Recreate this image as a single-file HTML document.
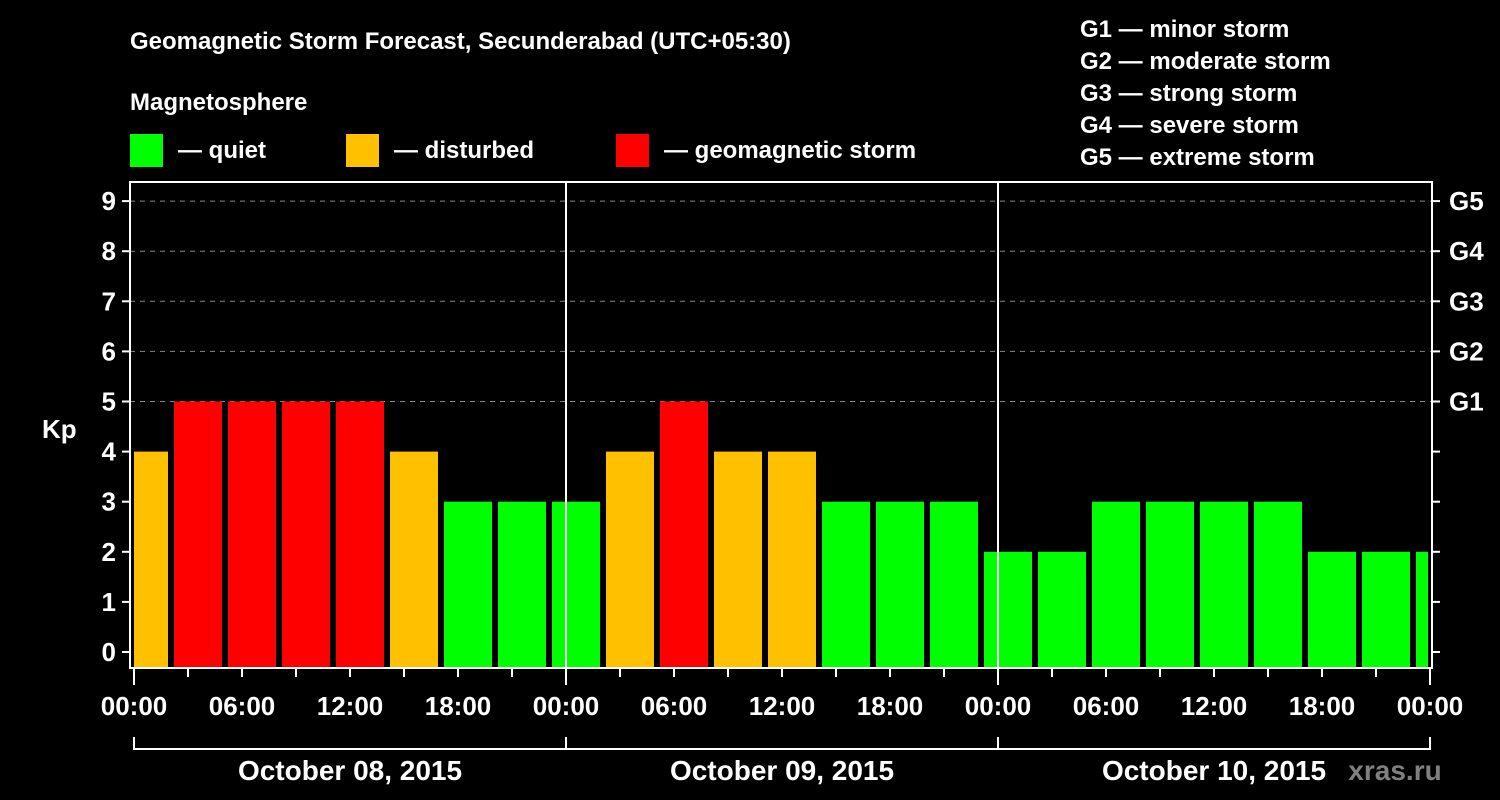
<!DOCTYPE html>
<html><head><meta charset="utf-8"><style>
html,body{margin:0;padding:0;background:#000;}
svg{display:block;font-family:"Liberation Sans",sans-serif;font-weight:bold;}
</style></head><body>
<svg id="chart" width="1500" height="800" xmlns="http://www.w3.org/2000/svg">
<rect width="1500" height="800" fill="#000"/>
<text x="130" y="49" fill="#fff" font-size="24">Geomagnetic Storm Forecast, Secunderabad (UTC+05:30)</text>
<text x="130" y="110" fill="#fff" font-size="24">Magnetosphere</text>
<g><rect x="130" y="134" width="33" height="33" fill="#00ff00"/><text x="178" y="158" fill="#fff" font-size="24">— quiet</text></g>
<g><rect x="346" y="134" width="33" height="33" fill="#ffc000"/><text x="394" y="158" fill="#fff" font-size="24">— disturbed</text></g>
<g><rect x="616" y="134" width="33" height="33" fill="#ff0000"/><text x="664" y="158" fill="#fff" font-size="24">— geomagnetic storm</text></g>
<g fill="#fff" font-size="24">
<text x="1080" y="37">G1 — minor storm</text>
<text x="1080" y="69">G2 — moderate storm</text>
<text x="1080" y="101">G3 — strong storm</text>
<text x="1080" y="133">G4 — severe storm</text>
<text x="1080" y="165">G5 — extreme storm</text>
</g>
<text x="42" y="438" fill="#fff" font-size="26">Kp</text>
<g id="grid"></g>
<g id="bars"></g>
<g id="axes"></g>
<text x="1395" y="780" fill="#808080" font-size="28" text-anchor="middle">xras.ru</text>
</svg>
<script>
const kpValues=[4,5,5,5,5,4,3,3,3,4,5,4,4,3,3,3,2,2,3,3,3,3,2,2,2];
const yTicks=[0,1,2,3,4,5,6,7,8,9];
const gLabels=["G1","G2","G3","G4","G5"];
const gLevels=[5,6,7,8,9];
const timeLabels=["00:00","06:00","12:00","18:00"];
const dayLabels=["October 08, 2015","October 09, 2015","October 10, 2015"];
const NS="http://www.w3.org/2000/svg";
const X0=134,PXH=18,Y0=652,PXK=50.1,TOP=182,BOT=668,LEFT=130,RIGHT=1432;
const x=h=>X0+h*PXH;
const y=v=>Y0-v*PXK;
function mk(t,a,p){const e=document.createElementNS(NS,t);for(const k in a)e.setAttribute(k,a[k]);p.appendChild(e);return e;}
const grid=document.getElementById('grid'),bars=document.getElementById('bars'),axes=document.getElementById('axes');
yTicks.forEach(v=>{
 if(v>=5){const l=mk('line',{x1:LEFT,x2:RIGHT,y1:y(v),y2:y(v),stroke:'#888','stroke-dasharray':'5,5','stroke-width':1},grid);
 
 }
 const t=mk('line',{x1:122,x2:LEFT,y1:y(v),y2:y(v),stroke:'#fff','stroke-width':2},axes);
 
 
 const t2=mk('line',{x1:RIGHT,x2:1440,y1:y(v),y2:y(v),stroke:'#fff','stroke-width':2},axes);
 
 
 const tx=mk('text',{x:116,y:y(v)+9,fill:'#fff','font-size':26,'text-anchor':'end'},axes);tx.textContent=v;
 
 
});
gLevels.forEach((v,i)=>{const tx=mk('text',{x:1449,y:y(v)+9,fill:'#fff','font-size':26},axes);tx.textContent=gLabels[i];
 
 });
const clip=mk('clipPath',{id:'pc'},document.getElementById('chart'));mk('rect',{x:X0,y:TOP,width:x(72)-X0-2,height:BOT-TOP},clip);
bars.setAttribute('clip-path','url(#pc)');
kpValues.forEach((v,i)=>{
 const s=-0.5+3*i*1+ (i*0);
 const x1=x(-14/18+i*3);
 const col=v>=5?'#ff0000':(v>=4?'#ffc000':'#00ff00');
 const r=mk('rect',{x:x1,y:y(v),width:48,height:BOT-y(v),fill:col},bars);
 
 
});
for(let d=0;d<3;d++){
 const vl=mk('line',{x1:x(24*d)+(d?0:0),x2:x(24*d),y1:TOP,y2:BOT,stroke:'#fff','stroke-width':d?2:0},axes);
 
 
}
const fr=mk('rect',{x:LEFT,y:TOP,width:RIGHT-LEFT,height:BOT-TOP,fill:'none',stroke:'#fff','stroke-width':2},axes);


for(let h=0;h<=72;h+=3){
 const big=h%24==0;
 const tk=mk('line',{x1:x(h),x2:x(h),y1:BOT,y2:BOT+(big?17:9),stroke:'#fff','stroke-width':2},axes);
 
 
 if(h%6==0){const tx=mk('text',{x:x(h),y:715,fill:'#fff','font-size':26,'text-anchor':'middle'},axes);tx.textContent=timeLabels[(h%24)/6];
 
 }
}
const br=mk('line',{x1:x(0),x2:x(72),y1:749,y2:749,stroke:'#fff','stroke-width':2},axes);


for(let d=0;d<=3;d++){const b=mk('line',{x1:x(24*d),x2:x(24*d),y1:737,y2:750,stroke:'#fff','stroke-width':2},axes);
 
 }
dayLabels.forEach((s,d)=>{const tx=mk('text',{x:x(24*d+12),y:780,fill:'#fff','font-size':28,'text-anchor':'middle'},axes);tx.textContent=s;
 
 });
</script>
</body></html>
